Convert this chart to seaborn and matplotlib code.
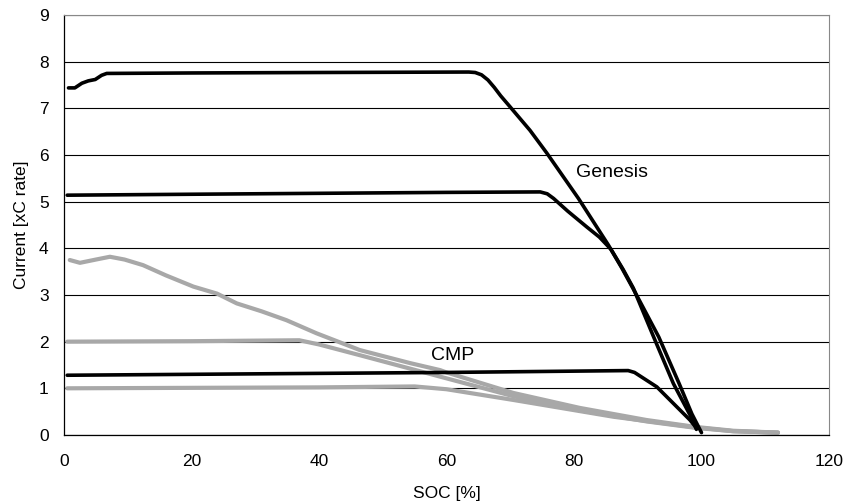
import numpy as np
import pandas as pd
import matplotlib
matplotlib.use('Agg')
import matplotlib.pyplot as plt
import seaborn as sns

sns.set_style('white')
plt.rcParams['font.family'] = ['Liberation Sans', 'DejaVu Sans']
plt.rcParams['font.size'] = 12.5
plt.rcParams['text.color'] = 'black'
plt.rcParams['axes.labelcolor'] = 'black'
plt.rcParams['xtick.color'] = 'black'
plt.rcParams['ytick.color'] = 'black'

# Genesis curves (black)
gen_hi_soc = [0.7, 1.7, 2.8, 3.8, 4.9, 5.9, 6.7, 20, 40, 63.5, 64.5, 65.5, 66.5, 67.5, 68.5,
              70.0, 73.1, 75.7, 80.7, 85.4, 87.5, 89.5, 93.3, 96.5, 98.5, 100.0]
gen_hi_cur = [7.44, 7.44, 7.54, 7.59, 7.62, 7.71, 7.75, 7.76, 7.77, 7.78, 7.77, 7.72, 7.61, 7.45, 7.27,
              7.03, 6.53, 6.05, 5.07, 4.07, 3.58, 3.08, 2.10, 1.10, 0.45, 0.05]

gen_mid_soc = [0.5, 20, 40, 60, 74.7, 75.8, 76.8, 79.0, 82.0, 84.0, 85.8, 87.7, 89.3, 92.5, 95.6, 98.7, 99.2]
gen_mid_cur = [5.14, 5.16, 5.18, 5.20, 5.21, 5.17, 5.07, 4.80, 4.46, 4.24, 3.98, 3.55, 3.15, 2.10, 1.10, 0.30, 0.12]

# CMP curves
cmp_black_soc = [0.5, 30, 60, 88.5, 89.5, 93.0, 98.2, 99.2]
cmp_black_cur = [1.28, 1.31, 1.34, 1.38, 1.34, 1.03, 0.32, 0.15]

cmp_hi_soc = [0.9, 2.5, 5.0, 7.2, 9.5, 12.4, 16.0, 20.3, 24.0, 27.1, 31.0, 34.9, 39.6, 46.4,
              54.3, 59.0, 60.0, 70.5, 80.9, 91.4, 99.2, 105.0, 112.0]
cmp_hi_cur = [3.75, 3.69, 3.76, 3.82, 3.76, 3.64, 3.42, 3.18, 3.03, 2.82, 2.65, 2.46, 2.18, 1.82,
              1.54, 1.39, 1.34, 0.90, 0.58, 0.32, 0.17, 0.09, 0.05]

cmp_mid_soc = [0.5, 20, 36.9, 40.0, 46.4, 59.0, 70.5, 80.9, 91.4, 99.2, 105.0, 112.0]
cmp_mid_cur = [2.00, 2.01, 2.03, 1.94, 1.71, 1.25, 0.83, 0.53, 0.29, 0.15, 0.08, 0.05]

cmp_lo_soc = [0.5, 20, 40, 55.0, 60.0, 70.5, 86.2, 99.2, 105.0, 112.0]
cmp_lo_cur = [1.00, 1.01, 1.02, 1.04, 0.98, 0.75, 0.39, 0.16, 0.08, 0.05]

series = [
    ('gen_hi', gen_hi_soc, gen_hi_cur),
    ('gen_mid', gen_mid_soc, gen_mid_cur),
    ('cmp_black', cmp_black_soc, cmp_black_cur),
    ('cmp_hi', cmp_hi_soc, cmp_hi_cur),
    ('cmp_mid', cmp_mid_soc, cmp_mid_cur),
    ('cmp_lo', cmp_lo_soc, cmp_lo_cur),
]
df = pd.concat([pd.DataFrame({'soc': s, 'cur': c, 'run': n}) for n, s, c in series],
               ignore_index=True)

fig = plt.figure(figsize=(8.49, 5.04), dpi=100)
ax = fig.add_axes([0.0754, 0.137, 0.901, 0.833])

ax.grid(True, axis='y', color='black', linewidth=0.8)
ax.set_axisbelow(True)

grey_runs = ['cmp_hi', 'cmp_mid', 'cmp_lo']
black_runs = ['gen_hi', 'gen_mid', 'cmp_black']
sns.lineplot(data=df[df['run'].isin(grey_runs)], x='soc', y='cur', units='run',
             estimator=None, sort=False, color='#a8a8a8', linewidth=3.0, ax=ax)
sns.lineplot(data=df[df['run'].isin(black_runs)], x='soc', y='cur', units='run',
             estimator=None, sort=False, color='black', linewidth=2.6, ax=ax)

ax.set_xlim(0, 120)
ax.set_ylim(0, 9)
ax.set_xticks(range(0, 121, 20))
ax.set_yticks(range(0, 10))
ax.tick_params(axis='both', direction='out', length=6, width=0.8, color='black',
               labelsize=12.5, pad=5)
ax.tick_params(axis='x', pad=8)

for side in ['left', 'bottom']:
    ax.spines[side].set_color('black')
    ax.spines[side].set_linewidth(0.9)
for side in ['top', 'right']:
    ax.spines[side].set_color('#888888')
    ax.spines[side].set_linewidth(0.8)
    ax.spines[side].set_linestyle((0, (1, 1)))

ax.set_xlabel('SOC [%]', fontsize=12.5, labelpad=12)
ax.set_ylabel('Current [xC rate]', fontsize=12.5, labelpad=7)

ax.text(80.3, 5.62, 'Genesis', fontsize=14, va='center', ha='left')
ax.text(57.5, 1.71, 'CMP', fontsize=14, va='center', ha='left')

fig.savefig('out.png', dpi=100)
